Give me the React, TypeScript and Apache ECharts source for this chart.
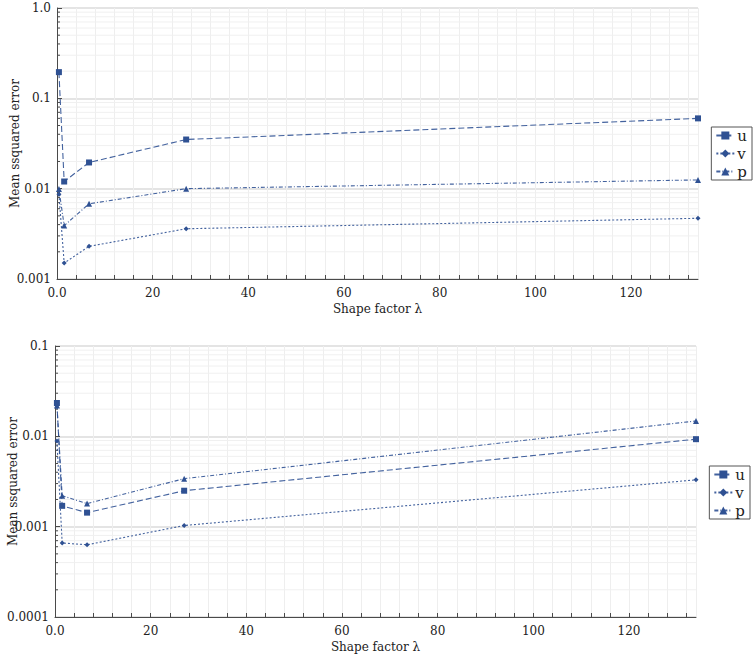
import React, { useEffect, useRef } from "react";
import * as echarts from "echarts";

// Shape factor values (x)
const lambda = [0.4, 1.5, 6.7, 27, 134];

// Top panel
const uTop = [0.195, 0.012, 0.0195, 0.035, 0.06];
const vTop = [0.0087, 0.0015, 0.0023, 0.0036, 0.0047];
const pTop = [0.0099, 0.0039, 0.0068, 0.01, 0.0125];

// Bottom panel
const uBot = [0.0234, 0.0017, 0.00143, 0.0025, 0.0093];
const vBot = [0.0089, 0.00066, 0.00063, 0.00103, 0.0033];
const pBot = [0.022, 0.0022, 0.0018, 0.0034, 0.0148];

// Tick labels by decade exponent
const topTickLabels: Record<string, string> = { "-3": "0.001", "-2": "0.01", "-1": "0.1", "0": "1.0" };
const botTickLabels: Record<string, string> = { "-4": "0.0001", "-3": "0.001", "-2": "0.01", "-1": "0.1" };
const topDecades = [0.001, 0.01, 0.1];
const botDecades = [0.0001, 0.001, 0.01];
const minorFactors = [2, 3, 4, 5, 6, 7, 8, 9];
const xTickLabels = ["0.0", "20", "40", "60", "80", "100", "120"];

const X_MAX = 134;
const FONT = "DejaVu Serif";
const COLOR = "#2f5193";
const AXIS = "#4a4a4a";

function minorValues(decades: number[]) {
  const out: number[][] = [];
  decades.forEach((d) => minorFactors.forEach((f) => out.push([0, f * d])));
  return out;
}

export default function App() {
  const ref = useRef<HTMLDivElement>(null);
  useEffect(() => {
    const chart = echarts.init(ref.current!, null, { renderer: "svg" });

    const xAxisBase = (gridIndex: number) => ({
      type: "value",
      gridIndex,
      min: 0,
      max: X_MAX,
      interval: 4,
      axisLine: { show: true, lineStyle: { color: AXIS, width: 1 } },
      axisTick: { show: true, inside: true, length: 4, interval: 0, lineStyle: { color: AXIS } },
      axisLabel: {
        interval: 0,
        showMaxLabel: false,
        margin: 8,
        color: "#222",
        fontFamily: FONT,
        fontSize: 12,
        formatter: (v: number) => (v % 20 === 0 ? xTickLabels[v / 20] ?? "" : ""),
      },
      splitLine: { show: true, lineStyle: { color: "#eeeeee", width: 1 } },
      name: "Shape factor λ",
      nameLocation: "middle",
      nameGap: 24,
      nameMoveOverlap: false,
      nameTextStyle: { fontFamily: FONT, fontSize: 12, color: "#222" },
    });

    const yAxisBase = (gridIndex: number, min: number, max: number, labels: Record<string, string>) => ({
      type: "log",
      logBase: 10,
      gridIndex,
      min,
      max,
      axisLine: { show: true, lineStyle: { color: AXIS, width: 1 } },
      axisTick: { show: true, inside: true, length: 5, lineStyle: { color: AXIS } },
      axisLabel: {
        color: "#222",
        fontFamily: FONT,
        fontSize: 12,
        margin: 6,
        formatter: (v: number) => labels[String(Math.round(Math.log10(v)))] ?? "",
      },
      splitLine: { show: true, lineStyle: { color: "#e4e4e4", width: 2 } },
      name: "Mean ssquared error",
      nameLocation: "middle",
      nameGap: 36,
      nameMoveOverlap: false,
      nameTextStyle: { fontFamily: FONT, fontSize: 12, color: "#222" },
    });

    const minorSeries = (idx: number, decades: number[]) => ({
      type: "custom",
      xAxisIndex: idx,
      yAxisIndex: idx,
      silent: true,
      z: 0,
      data: minorValues(decades),
      renderItem: (_p: any, api: any) => {
        const v = api.value(1);
        const a = api.coord([0, v]);
        const b = api.coord([X_MAX, v]);
        return {
          type: "group",
          children: [
            {
              type: "line",
              shape: { x1: a[0], y1: a[1], x2: b[0], y2: b[1] },
              style: { stroke: "#f0f0f0", lineWidth: 1 },
            },
            {
              type: "line",
              shape: { x1: a[0], y1: a[1], x2: a[0] + 3, y2: a[1] },
              style: { stroke: AXIS, lineWidth: 1 },
            },
          ],
        };
      },
    });

    const lineSeries = (
      name: string,
      idx: number,
      values: number[],
      symbol: string,
      size: number,
      dash: number[],
      z: number
    ) => ({
      type: "line",
      name,
      xAxisIndex: idx,
      yAxisIndex: idx,
      data: lambda.map((x, i) => [x, values[i]]),
      symbol,
      symbolSize: size,
      showAllSymbol: true,
      z,
      itemStyle: { color: COLOR },
      lineStyle: { color: COLOR, width: 1.1, type: dash, opacity: 0.9 },
      emphasis: { disabled: true },
    });

    const legendBase = (top: number, right: number) => ({
      orient: "vertical",
      top,
      right,
      data: ["u", "v", "p"],
      borderColor: "#555",
      borderWidth: 1,
      borderRadius: 0,
      padding: [1, 5, 1, 4],
      itemGap: 3,
      itemWidth: 18,
      itemHeight: 10,
      selectedMode: false,
      textStyle: { fontFamily: FONT, fontSize: 15, color: "#222", lineHeight: 14, padding: [0, 0, 0, -2] },
    });

    const option = {
      animation: false,
      backgroundColor: "#ffffff",
      grid: [
        { left: 57, top: 8, width: 641, height: 271, outerBoundsMode: "none", containLabel: false },
        { left: 55, top: 346, width: 641, height: 271, outerBoundsMode: "none", containLabel: false },
      ],
      xAxis: [xAxisBase(0), xAxisBase(1)],
      yAxis: [yAxisBase(0, 0.001, 1, topTickLabels), yAxisBase(1, 0.0001, 0.1, botTickLabels)],
      legend: [legendBase(127, 2), legendBase(466, 4)],
      series: [
        minorSeries(0, topDecades),
        minorSeries(1, botDecades),
        lineSeries("u", 0, uTop, "rect", 6, [6, 3], 5),
        lineSeries("v", 0, vTop, "diamond", 5, [2, 2], 3),
        lineSeries("p", 0, pTop, "triangle", 6, [4, 2, 1, 2], 4),
        lineSeries("u", 1, uBot, "rect", 6, [6, 3], 5),
        lineSeries("v", 1, vBot, "diamond", 5, [2, 2], 3),
        lineSeries("p", 1, pBot, "triangle", 6, [4, 2, 1, 2], 4),
      ],
    };

    chart.setOption(option as any);
    return () => chart.dispose();
  }, []);

  return (
    <div
      ref={ref}
      style={{ position: "fixed", left: 0, top: 0, width: 754, height: 655, background: "#fff" }}
    />
  );
}
